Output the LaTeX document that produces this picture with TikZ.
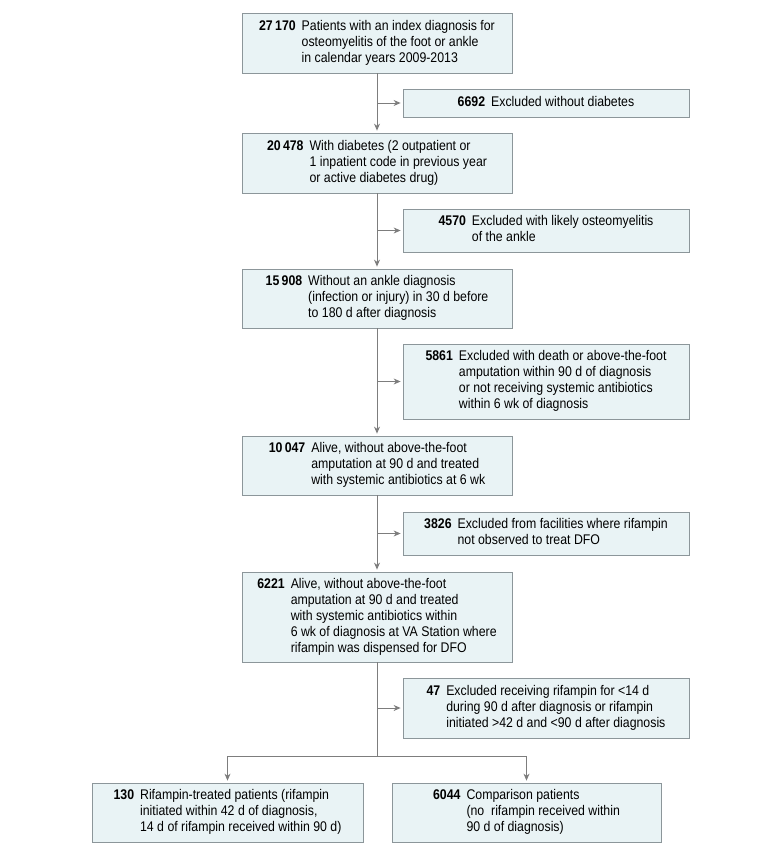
\documentclass[tikz,border=0pt]{standalone}
\usepackage{fontspec}
\setmainfont[FakeStretch=0.88]{Liberation Sans}
\usetikzlibrary{arrows.meta}
\definecolor{boxfill}{RGB}{233,243,245}
\definecolor{boxline}{RGB}{140,150,154}
\definecolor{linegrey}{RGB}{125,125,125}
\newcommand{\flowtext}[2]{\begin{tabular}{@{}r@{\hspace{6pt}}l@{}}\textbf{#1} & #2\end{tabular}}
\begin{document}
\begin{tikzpicture}[x=1pt,y=-1pt,
  box/.style={draw=boxline,fill=boxfill,line width=0.8pt,rectangle,inner sep=0pt,
    font=\fontsize{14}{16}\selectfont,align=left},
  arr/.style={draw=linegrey,line width=0.9pt,-{Stealth[length=7pt,width=6pt]},shorten >=2pt},
  conn/.style={draw=linegrey,line width=0.9pt}]
\useasboundingbox (0,0) rectangle (780,856);
\fill[white] (0,0) rectangle (780,856);

\node[box,minimum width=270pt,minimum height=60pt] (b1) at (377,43)
  {\flowtext{27\,170}{Patients with an index diagnosis for\\ & osteomyelitis of the foot or ankle\\ & in calendar years 2009-2013}};
\node[box,minimum width=286pt,minimum height=28pt] (e1) at (546,103)
  {\flowtext{6692}{Excluded without diabetes}};
\node[box,minimum width=270pt,minimum height=60pt] (b2) at (377,163)
  {\flowtext{20\,478}{With diabetes (2 outpatient or\\ & 1 inpatient code in previous year\\ & or active diabetes drug)}};
\node[box,minimum width=286pt,minimum height=43pt] (e2) at (546,230.5)
  {\flowtext{4570}{Excluded with likely osteomyelitis\\ & of the ankle}};
\node[box,minimum width=270pt,minimum height=59pt] (b3) at (377,298.5)
  {\flowtext{15\,908}{Without an ankle diagnosis\\ & (infection or injury) in 30 d before\\ & to 180 d after diagnosis}};
\node[box,minimum width=286pt,minimum height=75pt] (e3) at (546,381.5)
  {\flowtext{5861}{Excluded with death or above-the-foot\\ & amputation within 90 d of diagnosis\\ & or not receiving systemic antibiotics\\ & within 6 wk of diagnosis}};
\node[box,minimum width=270pt,minimum height=59pt] (b4) at (377,465.5)
  {\flowtext{10\,047}{Alive, without above-the-foot\\ & amputation at 90 d and treated\\ & with systemic antibiotics at 6 wk}};
\node[box,minimum width=286pt,minimum height=43pt] (e4) at (546,533.5)
  {\flowtext{3826}{Excluded from facilities where rifampin\\ & not observed to treat DFO}};
\node[box,minimum width=270pt,minimum height=90pt] (b5) at (377,617)
  {\flowtext{6221}{Alive, without above-the-foot\\ & amputation at 90 d and treated\\ & with systemic antibiotics within\\ & 6 wk of diagnosis at VA Station where\\ & rifampin was dispensed for DFO}};
\node[box,minimum width=286pt,minimum height=60pt] (e5) at (546,708)
  {\flowtext{47}{Excluded receiving rifampin for <14 d\\ & during 90 d after diagnosis or rifampin\\ & initiated >42 d and <90 d after diagnosis}};
\node[box,minimum width=271pt,minimum height=59pt] (L) at (227.5,812.5)
  {\flowtext{130}{Rifampin-treated patients (rifampin\\ & initiated within 42 d of diagnosis,\\ & 14 d of rifampin received within 90 d)}};
\node[box,minimum width=269pt,minimum height=59pt] (R) at (526.5,812.5)
  {\flowtext{6044}{Comparison patients\\ & (no\ \ rifampin received within\\ & 90 d of diagnosis)}};

\coordinate (split) at (377,756);

\draw[arr] (b1) -- (b2);
\draw[arr] (b2) -- (b3);
\draw[arr] (b3) -- (b4);
\draw[arr] (b4) -- (b5);
\draw[arr] (b1.south |- e1.west) -- (e1.west);
\draw[arr] (b2.south |- e2.west) -- (e2.west);
\draw[arr] (b3.south |- e3.west) -- (e3.west);
\draw[arr] (b4.south |- e4.west) -- (e4.west);
\draw[arr] (b5.south |- e5.west) -- (e5.west);
\draw[conn] (b5.south) -- (split);
\draw[arr] (split) -| (L.north);
\draw[arr] (split) -| (R.north);
\end{tikzpicture}
\end{document}
